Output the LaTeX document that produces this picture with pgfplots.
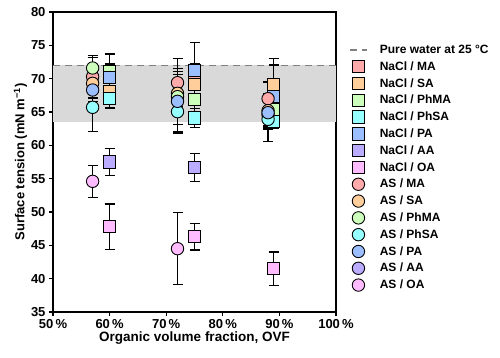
\documentclass[border=0pt]{standalone}
\usepackage{pgfplots}
\usepackage{pgfplotstable}
\pgfplotsset{compat=1.18}
\usepackage{fontspec}
\setmainfont{Liberation Sans}
\definecolor{cMA}{RGB}{255,170,170}
\definecolor{cSA}{RGB}{255,206,155}
\definecolor{cPhMA}{RGB}{204,255,187}
\definecolor{cPhSA}{RGB}{150,255,255}
\definecolor{cPA}{RGB}{155,190,255}
\definecolor{cAA}{RGB}{187,172,255}
\definecolor{cOA}{RGB}{255,187,255}
\definecolor{bandgray}{RGB}{217,217,217}
\definecolor{dashgray}{RGB}{128,128,128}
\pgfplotsset{sq/.style={only marks, mark=square*, mark size=6.2pt, mark options={draw=black, line width=0.9pt, fill=#1}}}
\pgfplotsset{ci/.style={only marks, mark=*, mark size=6.2pt, mark options={draw=black, line width=0.9pt, fill=#1}}}
\pgfplotsset{eb/.style={forget plot, only marks, mark=none,
  error bars/.cd, y dir=both, y explicit,
  error bar style={line width=1.2pt, black},
  error mark options={rotate=90, mark size=5pt, line width=1.2pt, black}}}
% NaCl (squares): x y err
\pgfplotstableread{
x y e
60 70.2 3.5
75 71.0 1.2
89 68.4 3.6
}\NaMA
\pgfplotstableread{
x y e
60 68.1 1.2
75 69.1 1.6
89 69.1 3.9
}\NaSA
\pgfplotstableread{
x y e
60 71.0 1.2
75 66.9 1.8
89 65.3 2.8
}\NaPhMA
\pgfplotstableread{
x y e
60 67.0 1.4
75 64.1 1.4
89 63.6 1.1
}\NaPhSA
\pgfplotstableread{
x y e
60 70.2 1.5
75 71.2 4.2
89 67.3 4.8
}\NaPA
\pgfplotstableread{
x y e
60 57.5 2.0
75 56.7 2.1
}\NaAA
\pgfplotstableread{
x y e
60 47.8 3.4
75 46.3 2.0
89 41.5 2.5
}\NaOA
% AS (circles)
\pgfplotstableread{
x y e
57 70.3 3.2
72 69.4 3.6
88 67.0 2.5
}\AsMA
\pgfplotstableread{
x y e
57 69.3 2.7
72 67.8 2.8
88 65.2 2.6
}\AsSA
\pgfplotstableread{
x y e
57 71.6 1.6
72 67.3 4.2
88 64.6 2.2
}\AsPhMA
\pgfplotstableread{
x y e
57 65.7 3.6
72 65.05 3.2
88 63.9 3.3
}\AsPhSA
\pgfplotstableread{
x y e
57 68.3 3.0
72 66.6 4.5
88 64.9 2.0
}\AsPA
\pgfplotstableread{
x y e
57 54.6 2.4
72 44.5 5.4
}\AsOA
\begin{document}
\begin{tikzpicture}
\useasboundingbox (-53pt,-46pt) rectangle (447pt,312pt);
\begin{axis}[
  at={(0,0)}, anchor=south west,
  scale only axis, width=283pt, height=300pt,
  xmin=50, xmax=100, ymin=35, ymax=80,
  xtick={50,60,...,100}, ytick={35,40,...,80},
  xticklabel={\pgfmathprintnumber{\tick}\,\%},
  /pgf/number format/assume math mode=true,
  tick label style={font=\fontsize{13}{15}\selectfont\bfseries},
  xlabel style={font=\fontsize{13.5}{16}\selectfont\bfseries, yshift=4pt},
  ylabel style={font=\fontsize{13}{16}\selectfont\bfseries, yshift=-3pt},
  xlabel={Organic volume fraction, OVF},
  ylabel={Surface tension (mN m\textsuperscript{−1})},
  axis line style={line width=1.2pt},
  major tick style={line width=1.1pt, black},
  tick align=outside, tick pos=left,
  major tick length=4pt,
  legend cell align=left,
  legend style={at={(1.035,0.9)}, anchor=north west, draw=none, fill=none,
    font=\fontsize{12}{13}\selectfont\bfseries, row sep=4.4pt,
    nodes={inner sep=1pt},
    /tikz/every odd column/.append style={column sep=11pt}},
  clip=false,
]
% band
\addplot[draw=none, fill=bandgray, forget plot] coordinates {(50,63.5) (100,63.5) (100,72) (50,72) (50,63.5)} -- cycle;
\addplot[dashgray, line width=1.6pt, dash pattern=on 7pt off 5pt] coordinates {(50,72) (100,72)};
\addlegendentry{Pure water at 25 °C}

% error bars first (behind all marks)
\addplot[eb] table[x=x, y=y, y error=e] {\NaMA};
\addplot[eb] table[x=x, y=y, y error=e] {\NaSA};
\addplot[eb] table[x=x, y=y, y error=e] {\NaPhMA};
\addplot[eb] table[x=x, y=y, y error=e] {\NaPhSA};
\addplot[eb] table[x=x, y=y, y error=e] {\NaPA};
\addplot[eb] table[x=x, y=y, y error=e] {\NaAA};
\addplot[eb] table[x=x, y=y, y error=e] {\NaOA};
\addplot[eb] table[x=x, y=y, y error=e] {\AsMA};
\addplot[eb] table[x=x, y=y, y error=e] {\AsSA};
\addplot[eb] table[x=x, y=y, y error=e] {\AsPhMA};
\addplot[eb] table[x=x, y=y, y error=e] {\AsPhSA};
\addplot[eb] table[x=x, y=y, y error=e] {\AsPA};
\addplot[eb] table[x=x, y=y, y error=e] {\AsOA};

% NaCl squares
\addplot[sq=cMA] table[x=x,y=y] {\NaMA};
\addlegendentry{NaCl / MA}
\addplot[sq=cSA] table[x=x,y=y] {\NaSA};
\addlegendentry{NaCl / SA}
\addplot[sq=cPhMA] table[x=x,y=y] {\NaPhMA};
\addlegendentry{NaCl / PhMA}
\addplot[sq=cPhSA] table[x=x,y=y] {\NaPhSA};
\addlegendentry{NaCl / PhSA}
\addplot[sq=cPA] table[x=x,y=y] {\NaPA};
\addlegendentry{NaCl / PA}
\addplot[sq=cAA] table[x=x,y=y] {\NaAA};
\addlegendentry{NaCl / AA}
\addplot[sq=cOA] table[x=x,y=y] {\NaOA};
\addlegendentry{NaCl / OA}

% AS circles
\addplot[ci=cMA] table[x=x,y=y] {\AsMA};
\addlegendentry{AS / MA}
\addplot[ci=cSA] table[x=x,y=y] {\AsSA};
\addlegendentry{AS / SA}
\addplot[ci=cPhMA] table[x=x,y=y] {\AsPhMA};
\addlegendentry{AS / PhMA}
\addplot[ci=cPhSA] table[x=x,y=y] {\AsPhSA};
\addlegendentry{AS / PhSA}
\addplot[ci=cPA] table[x=x,y=y] {\AsPA};
\addlegendentry{AS / PA}
\addlegendimage{ci=cAA}
\addlegendentry{AS / AA}
\addplot[ci=cOA] table[x=x,y=y] {\AsOA};
\addlegendentry{AS / OA}
\end{axis}
\end{tikzpicture}
\end{document}
